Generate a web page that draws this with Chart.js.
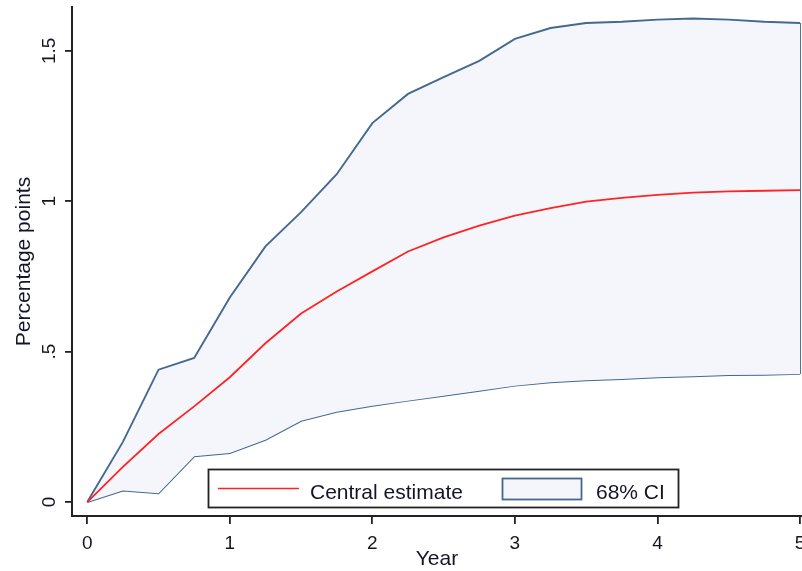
<!DOCTYPE html>
<html>
<head>
<meta charset="utf-8">
<script src="https://cdn.jsdelivr.net/npm/chart.js@4/dist/chart.umd.min.js"></script>
<style>
  html, body { margin: 0; padding: 0; background: #fff; }
  canvas { display: block; }
</style>
</head>
<body>
<canvas id="grafico" width="802" height="571"></canvas>
<script>
// dados (trimestral, 0 a 5 anos)
const anos = [0, 0.25, 0.5, 0.75, 1, 1.25, 1.5, 1.75, 2, 2.25, 2.5, 2.75, 3, 3.25, 3.5, 3.75, 4, 4.25, 4.5, 4.75, 5];
const central = [0, 0.117, 0.226, 0.318, 0.415, 0.528, 0.627, 0.700, 0.767, 0.833, 0.880, 0.919, 0.952, 0.977, 0.999, 1.011, 1.021, 1.029, 1.033, 1.035, 1.037];
const superior = [0, 0.20, 0.44, 0.479, 0.68, 0.85, 0.964, 1.09, 1.26, 1.357, 1.413, 1.467, 1.54, 1.576, 1.593, 1.597, 1.604, 1.608, 1.604, 1.597, 1.593];
const inferior = [0, 0.038, 0.029, 0.152, 0.163, 0.207, 0.27, 0.30, 0.32, 0.337, 0.353, 0.37, 0.387, 0.398, 0.405, 0.409, 0.415, 0.418, 0.422, 0.423, 0.426];

const ticksX = [0, 1, 2, 3, 4, 5];
const ticksY = [0, 0.5, 1, 1.5];

const corLinha = '#ff2424';
const corBanda = '#456890';
const corFundo = '#f4f6fb';
const corEixo = '#222222';
const corTexto = '#15152a';
const fonte = '"Liberation Sans", Arial, sans-serif';

const pontos = (ys) => anos.map((x, i) => ({ x: x, y: ys[i] }));
const ultimo = anos.length - 1;

// legenda desenhada dentro da área do gráfico, como no original
const legendaInterna = {
    id: 'legendaInterna',
    afterDraw(chart) {
        const ctx = chart.ctx;
        const ds = chart.data.datasets;
        ctx.save();
        ctx.fillStyle = '#fff';
        ctx.fillRect(208.5, 469.5, 470, 38);
        ctx.strokeStyle = corEixo;
        ctx.lineWidth = 1.8;
        ctx.strokeRect(208.5, 469.5, 470, 38);

        ctx.strokeStyle = ds[0].borderColor;
        ctx.lineWidth = 1.6;
        ctx.beginPath();
        ctx.moveTo(218, 488.5);
        ctx.lineTo(299, 488.5);
        ctx.stroke();

        ctx.fillStyle = ds[1].backgroundColor;
        ctx.fillRect(502.5, 478.5, 79, 21);
        ctx.strokeStyle = ds[1].borderColor;
        ctx.lineWidth = 1.8;
        ctx.strokeRect(502.5, 478.5, 79, 21);

        ctx.fillStyle = corTexto;
        ctx.font = '21px ' + fonte;
        ctx.textBaseline = 'alphabetic';
        ctx.fillText(ds[0].label, 310, 499);
        ctx.fillText(ds[1].label, 596, 499);
        ctx.restore();
    }
};

const ctx = document.getElementById('grafico').getContext('2d');
new Chart(ctx, {
    type: 'line',
    data: {
        datasets: [
            {
                label: 'Central estimate',
                data: pontos(central),
                borderColor: corLinha,
                borderWidth: 1.8,
                pointRadius: 0,
                fill: false
            },
            {
                label: '68% CI',
                data: pontos(superior),
                borderColor: corBanda,
                backgroundColor: corFundo,
                borderWidth: 1.9,
                pointRadius: 0,
                fill: '+1'
            },
            {
                label: 'inferior',
                data: pontos(inferior),
                borderColor: corBanda,
                borderWidth: 1.9,
                pointRadius: 0,
                fill: false
            },
            {
                // fecha a banda em x = 5
                label: 'borda',
                data: [{ x: anos[ultimo], y: inferior[ultimo] }, { x: anos[ultimo], y: superior[ultimo] }],
                borderColor: corBanda,
                borderWidth: 1.9,
                pointRadius: 0,
                fill: false
            }
        ]
    },
    options: {
        responsive: false,
        animation: false,
        layout: { padding: { top: 7, left: 0, right: 0, bottom: 0 } },
        plugins: {
            legend: { display: false },
            tooltip: { enabled: false }
        },
        scales: {
            x: {
                type: 'linear',
                min: -0.107,
                max: 5.014,
                afterBuildTicks: (s) => { s.ticks = ticksX.map(v => ({ value: v })); },
                afterFit: (s) => { s.height = 55; s.paddingLeft = 0; s.paddingRight = 0; },
                grid: { display: true, drawOnChartArea: false, drawTicks: true, tickLength: 8, color: corEixo, lineWidth: 1.8 },
                border: { display: true, color: corEixo, width: 2 },
                ticks: {
                    autoSkip: false,
                    maxRotation: 0,
                    padding: 8,
                    color: corTexto,
                    font: { family: fonte, size: 19 },
                    callback: (v) => String(v)
                },
                title: {
                    display: true,
                    text: 'Year',
                    color: corTexto,
                    font: { family: fonte, size: 21, lineHeight: 1 },
                    padding: { top: 0, bottom: 1 }
                }
            },
            y: {
                type: 'linear',
                min: -0.0465,
                max: 1.646,
                afterBuildTicks: (s) => { s.ticks = ticksY.map(v => ({ value: v })); },
                afterFit: (s) => { s.width = 72; s.paddingTop = 0; s.paddingBottom = 0; },
                grid: { display: true, drawOnChartArea: false, drawTicks: true, tickLength: 7, color: corEixo, lineWidth: 1.8 },
                border: { display: true, color: corEixo, width: 2 },
                ticks: {
                    minRotation: 90,
                    maxRotation: 90,
                    crossAlign: 'center',
                    padding: 2,
                    color: corTexto,
                    font: { family: fonte, size: 19 },
                    callback: (v) => (v === 0.5 ? '.5' : String(v))
                },
                title: {
                    display: true,
                    text: 'Percentage points',
                    color: corTexto,
                    font: { family: fonte, size: 21, lineHeight: 1.2 },
                    padding: { top: 12, bottom: 0 }
                }
            }
        }
    },
    plugins: [legendaInterna]
});
</script>
</body>
</html>
